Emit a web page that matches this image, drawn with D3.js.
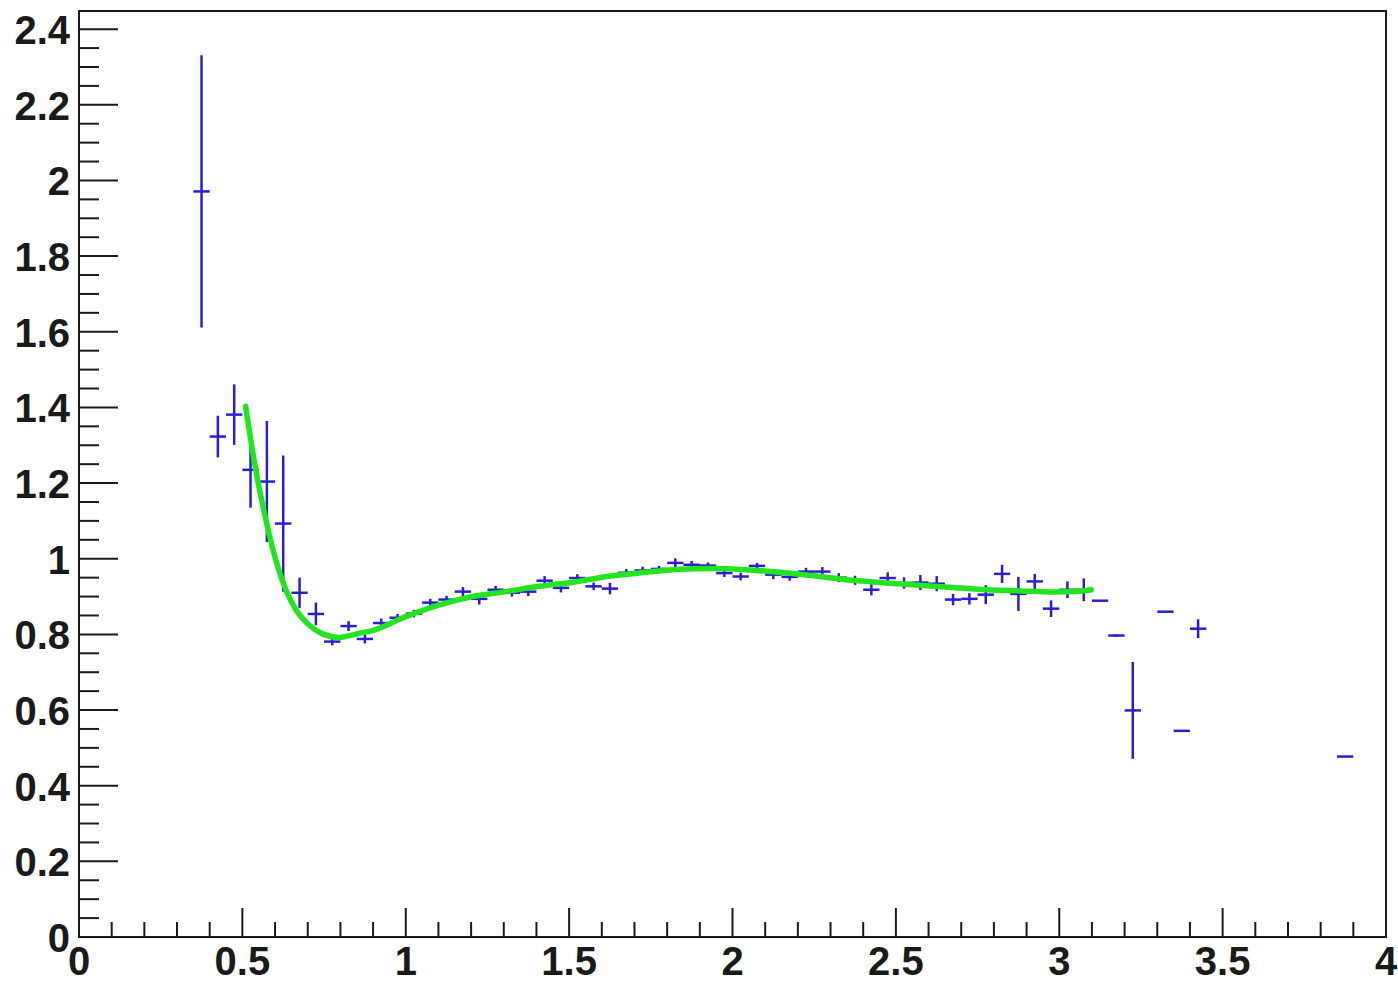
<!DOCTYPE html>
<html>
<head>
<meta charset="utf-8">
<script src="https://cdn.jsdelivr.net/npm/d3@7"></script>
<style>
    html, body { margin: 0; padding: 0; background: #fff; }
    svg { display: block; }
    .tick-label { font-family: "Liberation Sans", Arial, sans-serif; font-weight: bold; font-size: 40px; fill: #1a1a1a; }
</style>
</head>
<body>
<svg id="chart" width="1398" height="984"></svg>
<script>
// ============================================================================
// DATA
// ============================================================================

var binWidth = 0.05;

var binCenters = [
    0.375, 0.425, 0.475, 0.525, 0.575, 0.625, 0.675, 0.725, 0.775, 0.825,
    0.875, 0.925, 0.975, 1.025, 1.075, 1.125, 1.175, 1.225, 1.275, 1.325,
    1.375, 1.425, 1.475, 1.525, 1.575, 1.625, 1.675, 1.725, 1.775, 1.825,
    1.875, 1.925, 1.975, 2.025, 2.075, 2.125, 2.175, 2.225, 2.275, 2.325,
    2.375, 2.425, 2.475, 2.525, 2.575, 2.625, 2.675, 2.725, 2.775, 2.825,
    2.875, 2.925, 2.975, 3.025, 3.075, 3.125, 3.175, 3.225, 3.325, 3.375,
    3.425, 3.875
];

var binValues = [
    1.971, 1.323, 1.381, 1.235, 1.204, 1.093, 0.910, 0.854, 0.781, 0.822,
    0.788, 0.830, 0.844, 0.855, 0.884, 0.892, 0.913, 0.894, 0.918, 0.910,
    0.913, 0.942, 0.923, 0.949, 0.927, 0.921, 0.963, 0.969, 0.973, 0.989,
    0.984, 0.982, 0.962, 0.953, 0.981, 0.958, 0.952, 0.966, 0.966, 0.950,
    0.943, 0.918, 0.949, 0.936, 0.937, 0.934, 0.892, 0.894, 0.905, 0.960,
    0.907, 0.940, 0.868, 0.918, 0.918, 0.889, 0.797, 0.599, 0.860, 0.545,
    0.815, 0.477
];

var binErrors = [
    0.360, 0.055, 0.080, 0.100, 0.160, 0.180, 0.040, 0.030, 0.010, 0.013,
    0.012, 0.012, 0.010, 0.010, 0.010, 0.010, 0.012, 0.015, 0.010, 0.010,
    0.012, 0.012, 0.012, 0.010, 0.010, 0.015, 0.010, 0.010, 0.008, 0.012,
    0.010, 0.008, 0.010, 0.010, 0.008, 0.012, 0.010, 0.010, 0.012, 0.012,
    0.012, 0.015, 0.015, 0.015, 0.020, 0.020, 0.015, 0.015, 0.025, 0.024,
    0.045, 0.020, 0.022, 0.022, 0.030, 0.000, 0.003, 0.128, 0.000, 0.000,
    0.025, 0.000
];

// Fit function sampled along its drawn range
var fitX = [0.510, 0.541, 0.572, 0.602, 0.633, 0.664, 0.704, 0.744, 0.796, 0.858,
            0.898, 1.000, 1.103, 1.205, 1.307, 1.409, 1.511, 1.633, 1.736, 1.838,
            1.940, 2.042, 2.144, 2.246, 2.368, 2.470, 2.573, 2.675, 2.777, 2.879,
            2.981, 3.063, 3.098];
var fitY = [1.403, 1.235, 1.103, 0.997, 0.918, 0.865, 0.825, 0.802, 0.792, 0.803,
            0.810, 0.847, 0.878, 0.900, 0.913, 0.927, 0.938, 0.955, 0.964, 0.972,
            0.974, 0.971, 0.964, 0.955, 0.943, 0.936, 0.930, 0.924, 0.918, 0.915,
            0.912, 0.914, 0.918];

var xTickLabels = ["0", "0.5", "1", "1.5", "2", "2.5", "3", "3.5", "4"];
var yTickLabels = ["0", "0.2", "0.4", "0.6", "0.8", "1", "1.2", "1.4", "1.6", "1.8", "2", "2.2", "2.4"];

// ============================================================================
// SCALES
// ============================================================================

var svg = d3.select("#chart");
var frame = { left: 79, right: 1386, top: 11, bottom: 937 };

var x = d3.scaleLinear().domain([0, 4]).range([frame.left, frame.right]);
var y = d3.scaleLinear().domain([0, 2.448]).range([frame.bottom, frame.top]);

var axisColor = "#1a1a1a";

// ============================================================================
// FRAME + TICKS
// ============================================================================

svg.append("rect")
    .attr("x", frame.left).attr("y", frame.top)
    .attr("width", frame.right - frame.left).attr("height", frame.bottom - frame.top)
    .attr("fill", "none").attr("stroke", axisColor).attr("stroke-width", 2);

// x ticks point up into the frame: major every 0.5, minor every 0.1
var xMinor = d3.range(0, 41).map(function(i) { return i / 10; });
svg.append("g").selectAll("line")
    .data(xMinor).enter().append("line")
    .attr("x1", function(d) { return x(d); }).attr("x2", function(d) { return x(d); })
    .attr("y1", frame.bottom)
    .attr("y2", function(d, i) { return frame.bottom - (i % 5 === 0 ? 29 : 15); })
    .attr("stroke", axisColor).attr("stroke-width", 2);

// y ticks point right: major every 0.2, minor every 0.05
var yMinor = d3.range(0, 49).map(function(i) { return i * 0.05; });
svg.append("g").selectAll("line")
    .data(yMinor).enter().append("line")
    .attr("y1", function(d) { return y(d); }).attr("y2", function(d) { return y(d); })
    .attr("x1", frame.left)
    .attr("x2", function(d, i) { return frame.left + (i % 4 === 0 ? 39 : 20); })
    .attr("stroke", axisColor).attr("stroke-width", 2);

// Tick labels (baseline kept inside the 984px canvas)
svg.append("g").selectAll("text")
    .data(xTickLabels).enter().append("text")
    .attr("class", "tick-label")
    .attr("x", function(d) { return x(+d); })
    .attr("y", 975)
    .attr("text-anchor", "middle")
    .text(function(d) { return d; });

svg.append("g").selectAll("text")
    .data(yTickLabels).enter().append("text")
    .attr("class", "tick-label")
    .attr("x", 70)
    .attr("y", function(d) { return y(+d) + 15; })
    .attr("text-anchor", "end")
    .text(function(d) { return d; });

// ============================================================================
// HISTOGRAM ERROR BARS
// ============================================================================

var bins = binCenters.map(function(c, i) {
    return { x: c, v: binValues[i], e: binErrors[i] };
});

var markColor = "#2a1fd6";
var gBins = svg.append("g");

gBins.selectAll(".hbar")
    .data(bins).enter().append("line")
    .attr("class", "hbar")
    .attr("x1", function(d) { return x(d.x - binWidth / 2); })
    .attr("x2", function(d) { return x(d.x + binWidth / 2); })
    .attr("y1", function(d) { return y(d.v); })
    .attr("y2", function(d) { return y(d.v); })
    .attr("stroke", markColor).attr("stroke-width", 2.5);

gBins.selectAll(".vbar")
    .data(bins.filter(function(d) { return d.e > 0; })).enter().append("line")
    .attr("class", "vbar")
    .attr("x1", function(d) { return x(d.x); })
    .attr("x2", function(d) { return x(d.x); })
    .attr("y1", function(d) { return y(d.v - d.e); })
    .attr("y2", function(d) { return y(d.v + d.e); })
    .attr("stroke", markColor).attr("stroke-width", 2.5);

// ============================================================================
// FIT CURVE
// ============================================================================

var fitLine = d3.line()
    .x(function(d) { return x(d[0]); })
    .y(function(d) { return y(d[1]); })
    .curve(d3.curveMonotoneX);

svg.append("path")
    .datum(fitX.map(function(v, i) { return [v, fitY[i]]; }))
    .attr("d", fitLine)
    .attr("fill", "none")
    .attr("stroke", "#22e51f")
    .attr("stroke-width", 5.5)
    .attr("stroke-linecap", "round")
    .attr("stroke-linejoin", "round");
</script>
</body>
</html>
